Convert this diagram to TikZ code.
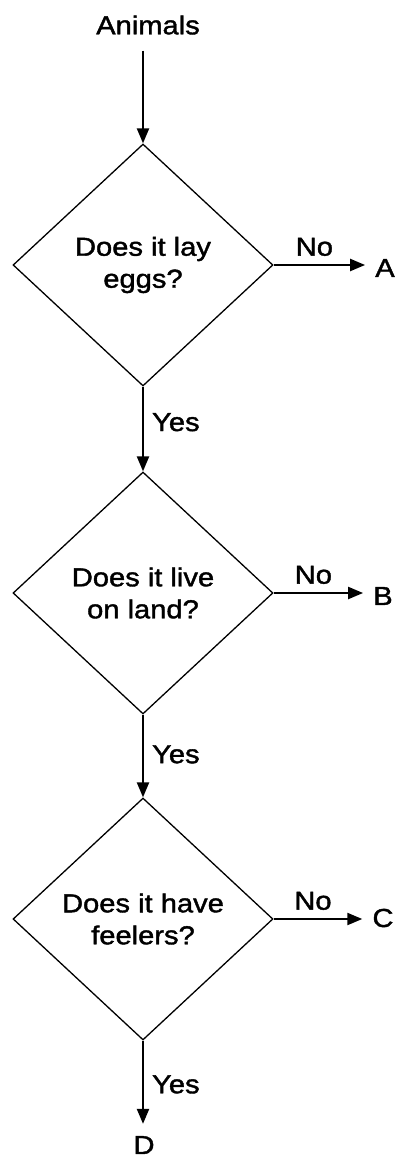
\documentclass[tikz,border=0pt]{standalone}
\usepackage{fontspec}
\setmainfont{Liberation Sans}[FakeStretch=1.12,FakeBold=1.5]
\usetikzlibrary{shapes.geometric,arrows.meta}
\begin{document}
\begin{tikzpicture}[x=1pt,y=-1pt,
  q/.style={diamond, draw, line width=1.3pt, minimum width=260pt, minimum height=242pt,
            inner sep=0pt, aspect=1.07, align=center, font=\fontsize{26}{32}\selectfont},
  lab/.style={font=\fontsize{26}{32}\selectfont, inner sep=0pt},
  nolab/.style={lab, above=8pt, xshift=-10pt},
  arr/.style={line width=2.2pt, -{Triangle[length=15pt,width=12pt]}}]
\useasboundingbox (0,0) rectangle (400,1161);
\node[lab] (animals) at (148,25) {Animals};
\node[q] (d1) at (143,265) {Does it lay\\eggs?};
\node[q] (d2) at (143,593) {Does it live\\on land?};
\node[q] (d3) at (143,919) {Does it have\\feelers?};
\node[lab] (A) at (385,268) {A};
\node[lab] (B) at (383,596) {B};
\node[lab] (C) at (383,918) {C};
\node[lab] (D) at (144,1145) {D};
\draw[arr, shorten <=16pt] (animals.south -| d1.north) -- (d1.north);
\draw[arr, shorten >=10pt] (d1.east) -- node[nolab] (no1) {No} (d1.east -| A.west);
\draw[arr, shorten >=10pt] (d2.east) -- node[nolab] (no2) {No} (d2.east -| B.west);
\draw[arr, shorten >=10pt] (d3.east) -- node[nolab] (no3) {No} (d3.east -| C.west);
\draw[arr] (d1.south) -- node[lab, pos=0.42, right=8pt] (yes1) {Yes} (d2.north);
\draw[arr] (d2.south) -- node[lab, pos=0.48, right=8pt] (yes2) {Yes} (d3.north);
\draw[arr, shorten >=12pt] (d3.south) -- node[lab, pos=0.46, right=8pt] (yes3) {Yes} (d3.south |- D.north);
\end{tikzpicture}
\end{document}
